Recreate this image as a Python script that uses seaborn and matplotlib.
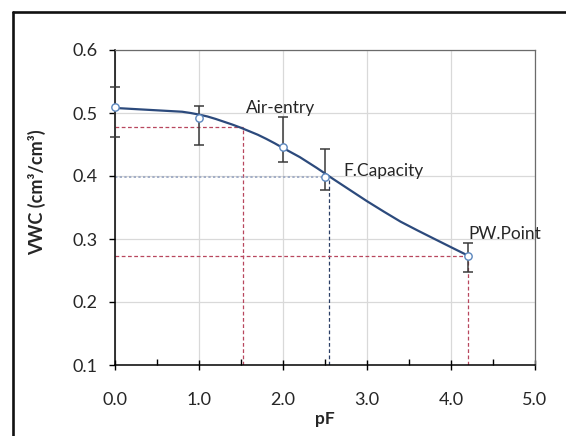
import numpy as np
import matplotlib
matplotlib.use('Agg')
import matplotlib.pyplot as plt
import seaborn as sns
from matplotlib.lines import Line2D
from matplotlib.ticker import MultipleLocator, FormatStrFormatter

# measured points (pF, VWC) with error bars
point_pf = [0.0, 1.0, 2.0, 2.5, 4.2]
point_vwc = [0.509, 0.492, 0.446, 0.398, 0.2735]
err_top = [0.5415, 0.511, 0.493, 0.443, 0.293]
err_bot = [0.462, 0.4495, 0.423, 0.377, 0.248]

# fitted retention curve
curve_pf = [0.0, 0.2, 0.4, 0.6, 0.8, 0.9, 1.0, 1.1, 1.2, 1.3, 1.4, 1.5, 1.6, 1.7, 1.8, 1.9,
            2.0, 2.2, 2.4, 2.6, 2.8, 3.0, 3.2, 3.4, 3.6, 3.8, 4.0, 4.2]
curve_vwc = [0.508, 0.5065, 0.505, 0.5035, 0.502, 0.500, 0.4975, 0.4945, 0.4905, 0.486, 0.4815,
             0.4765, 0.471, 0.4655, 0.459, 0.452, 0.4445, 0.430, 0.413, 0.395, 0.3775, 0.360,
             0.3435, 0.3275, 0.3137, 0.3003, 0.287, 0.2738]

# characteristic points
ref_names = ['Air-entry', 'F.Capacity', 'PW.Point']
ref_pf = [1.52, 2.55, 4.2]
ref_vwc = [0.477, 0.398, 0.2735]

sns.set_style('white')
plt.rcParams['font.family'] = ['Lato', 'DejaVu Sans']

fig = plt.figure(figsize=(5.66, 4.36), dpi=100)
ax = fig.add_axes([115 / 566, 71 / 436, 420 / 566, 315 / 436])

# reference lines
red = '#b8475e'
ax.plot([0, ref_pf[0]], [ref_vwc[0]] * 2, color=red, lw=0.9, ls=(0, (3, 2)))
ax.plot([ref_pf[0]] * 2, [0.1, ref_vwc[0]], color=red, lw=0.9, ls=(0, (3, 2)))
ax.plot([0, ref_pf[1]], [ref_vwc[1]] * 2, color='#a3aec6', lw=1.4, ls=(0, (1.2, 1.2)))
ax.plot([ref_pf[1]] * 2, [0.1, ref_vwc[1]], color='#2b3f66', lw=0.9, ls=(0, (3, 2)))
ax.plot([0, ref_pf[2]], [ref_vwc[2]] * 2, color=red, lw=0.9, ls=(0, (3, 2)))
ax.plot([ref_pf[2]] * 2, [0.1, ref_vwc[2]], color=red, lw=0.9, ls=(0, (3, 2)))

yerr = [np.array(point_vwc) - np.array(err_bot), np.array(err_top) - np.array(point_vwc)]
eb = ax.errorbar(point_pf, point_vwc, yerr=yerr, fmt='none', ecolor='#3a3a3a', elinewidth=1.1,
                 capsize=3.5, capthick=1.1, zorder=3)
for art in eb.lines[1] + eb.lines[2]:
    art.set_clip_on(False)

sns.lineplot(x=curve_pf, y=curve_vwc, ax=ax, color='#2c4a7c', lw=1.6, zorder=4)
sns.scatterplot(x=point_pf, y=point_vwc, ax=ax, s=28, facecolor='white', edgecolor='#5b86bd',
                linewidth=1.0, zorder=5, clip_on=False)

ax.text(1.56, 0.508, ref_names[0], fontsize=12.5, va='center', ha='left')
ax.text(2.72, 0.408, ref_names[1], fontsize=12.5, va='center', ha='left')
ax.text(4.21, 0.308, ref_names[2], fontsize=12.5, va='center', ha='left')

ax.set_xlim(0, 5)
ax.set_ylim(0.1, 0.6)
ax.xaxis.set_major_locator(MultipleLocator(1))
ax.xaxis.set_minor_locator(MultipleLocator(0.5))
ax.yaxis.set_major_locator(MultipleLocator(0.1))
ax.xaxis.set_major_formatter(FormatStrFormatter('%.1f'))
ax.yaxis.set_major_formatter(FormatStrFormatter('%.1f'))
ax.grid(True, which='major', color='#d9d9d9', lw=0.9)
ax.set_axisbelow(True)

ax.tick_params(axis='x', which='major', direction='inout', length=7, width=1, color='black',
               labelsize=13, pad=16, bottom=True)
ax.tick_params(axis='x', which='minor', direction='in', length=4, width=1, color='black', bottom=True)
ax.tick_params(axis='y', which='major', direction='out', length=4.5, width=1, color='black',
               labelsize=13, pad=8, left=True)

for s in ['left', 'bottom']:
    ax.spines[s].set_color('black')
    ax.spines[s].set_linewidth(1.1)
for s in ['top', 'right']:
    ax.spines[s].set_color('#6b6b6b')
    ax.spines[s].set_linewidth(0.9)

ax.set_xlabel('pF', fontsize=12.5, fontweight='bold', labelpad=2)
ax.set_ylabel('VWC (cm³/cm³)', fontsize=13, fontweight='bold', labelpad=9)
ax.yaxis.set_label_coords(-0.165, 0.55)

# outer frame
fig.add_artist(Line2D([12.5 / 566, 12.5 / 566], [0, 1 - 12.5 / 436], color='#111111', lw=1.9,
                      transform=fig.transFigure))
fig.add_artist(Line2D([12.5 / 566, 1], [1 - 12.5 / 436, 1 - 12.5 / 436], color='#111111', lw=1.9,
                      transform=fig.transFigure))

fig.savefig('out.png', dpi=100)
